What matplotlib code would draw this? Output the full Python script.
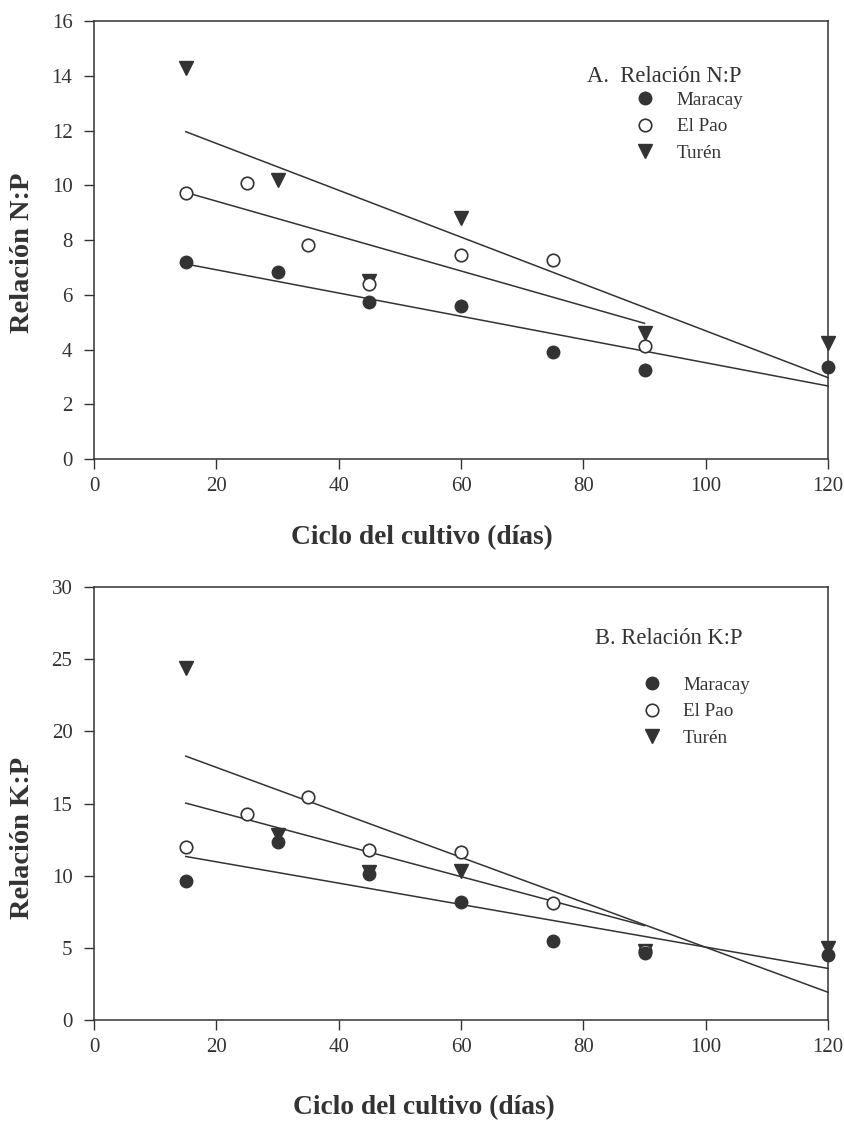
import numpy as np
import matplotlib
matplotlib.use("Agg")
import matplotlib.pyplot as plt

plt.rcParams['font.family'] = ['Liberation Serif', 'DejaVu Serif']

# --- A. Relacion N:P ---
np_mar_x = [15, 30, 45, 60, 75, 90, 120]
np_mar_y = [7.2, 6.82, 5.73, 5.58, 3.92, 3.25, 3.37]
np_pao_x = [15, 25, 35, 45, 60, 75, 90]
np_pao_y = [9.7, 10.1, 7.82, 6.38, 7.47, 7.28, 4.12]
np_tur_x = [15, 30, 45, 60, 90, 120]
np_tur_y = [14.3, 10.2, 6.5, 8.8, 4.6, 4.24]

# --- B. Relacion K:P ---
kp_mar_x = [15, 30, 45, 60, 75, 90, 120]
kp_mar_y = [9.65, 12.33, 10.09, 8.19, 5.51, 4.65, 4.53]
kp_pao_x = [15, 25, 35, 45, 60, 75, 90]
kp_pao_y = [11.98, 14.26, 15.47, 11.81, 11.63, 8.09, 4.8]
kp_tur_x = [15, 30, 45, 60, 90, 120]
kp_tur_y = [24.37, 12.84, 10.28, 10.35, 4.8, 5.0]

series_names = ['Maracay', 'El Pao', 'Turén']
dark = '#333333'


def fit_line(ax, x, y):
    # regression line over the range of each series
    m, b = np.polyfit(x, y, 1)
    xs = np.array([min(x), max(x)])
    ax.plot(xs, m * xs + b, color=dark, lw=1.1, zorder=2, clip_on=False)


def panel(ax, data, ymax, ystep, title, tpos, lpos, ylabel, ylab_pos, xlab_pos):
    (mx, my), (px, py), (tx, ty) = data
    for x, y in [(mx, my), (px, py), (tx, ty)]:
        fit_line(ax, x, y)
    ax.plot(tx, ty, 'v', color=dark, ms=9.5, ls='none', zorder=3,
            clip_on=False, label=series_names[2])
    ax.plot(px, py, 'o', mfc='white', mec=dark, mew=1.2, ms=9, ls='none',
            zorder=4, clip_on=False, label=series_names[1])
    ax.plot(mx, my, 'o', color=dark, ms=9, ls='none', zorder=5,
            clip_on=False, label=series_names[0])
    ax.set_xlim(0, 120)
    ax.set_ylim(0, ymax)
    ax.set_xticks(np.arange(0, 121, 20))
    ax.set_yticks(np.arange(0, ymax + 0.1, ystep))
    ax.tick_params(direction='out', length=7, width=1, labelsize=15,
                   colors=dark, pad=6)
    ax.tick_params(axis='y', pad=8.5)
    for s in ax.spines.values():
        s.set_color(dark)
        s.set_linewidth(1.1)
    ax.text(tpos[0], tpos[1], title, transform=ax.transAxes, fontsize=16.3,
            color=dark, va='center', ha='left')
    h, l = ax.get_legend_handles_labels()
    order = [2, 1, 0]
    ax.legend([h[i] for i in order], [l[i] for i in order], loc='upper left',
              bbox_to_anchor=lpos, frameon=False, fontsize=13.8,
              handletextpad=1.15, labelspacing=0.48, handlelength=1.0,
              labelcolor=dark)
    ax.set_ylabel(ylabel, fontsize=20.5, fontweight='bold', color=dark)
    ax.yaxis.label.set_va('center')
    ax.yaxis.set_label_coords(*ylab_pos)
    ax.set_xlabel('Ciclo del cultivo (días)', fontsize=19.8, fontweight='bold',
                  color=dark)
    ax.xaxis.label.set_va('center')
    ax.xaxis.set_label_coords(*xlab_pos)


fig = plt.figure(figsize=(8.44, 11.24), dpi=100)
ax1 = fig.add_axes([0.1114, 0.5916, 0.8697, 0.3897])
ax2 = fig.add_axes([0.1114, 0.0925, 0.8697, 0.3852])

panel(ax1, [(np_mar_x, np_mar_y), (np_pao_x, np_pao_y), (np_tur_x, np_tur_y)],
      16, 2, 'A.  Relación N:P', (0.672, 0.874), (0.714, 0.879),
      'Relación N:P', (-0.098, 0.470), (0.446, -0.180))
panel(ax2, [(kp_mar_x, kp_mar_y), (kp_pao_x, kp_pao_y), (kp_tur_x, kp_tur_y)],
      30, 5, 'B. Relación K:P', (0.682, 0.882), (0.723, 0.834),
      'Relación K:P', (-0.098, 0.420), (0.450, -0.203))

fig.savefig('out.png', dpi=100)
